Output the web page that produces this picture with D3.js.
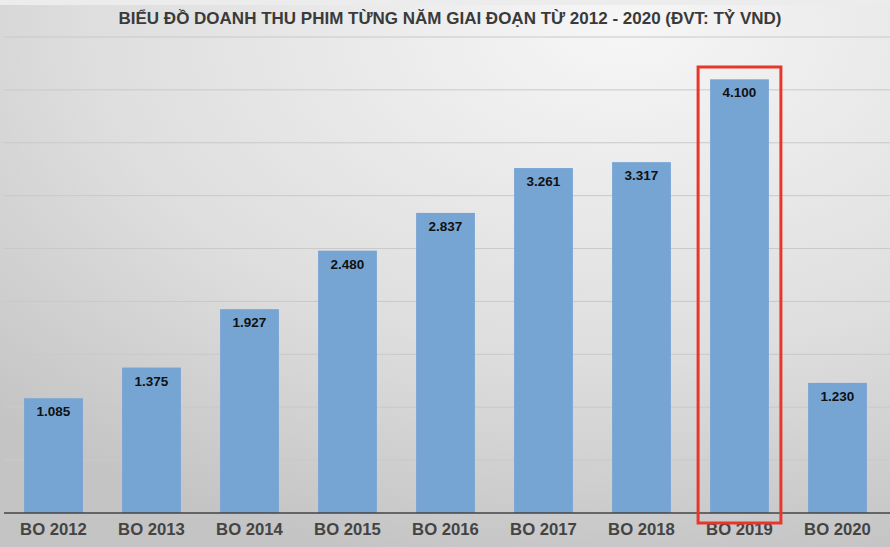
<!DOCTYPE html>
<html><head><meta charset="utf-8">
<script src="https://cdn.jsdelivr.net/npm/d3@7/dist/d3.min.js"></script>
<style>body{margin:0;}svg{display:block;}</style></head>
<body><svg id="c" width="890" height="547"></svg>
<script>
const categories = ["BO 2012","BO 2013","BO 2014","BO 2015","BO 2016","BO 2017","BO 2018","BO 2019","BO 2020"];
const values = [1.085,1.375,1.927,2.480,2.837,3.261,3.317,4.100,1.230];
const labels = ["1.085","1.375","1.927","2.480","2.837","3.261","3.317","4.100","1.230"];
const gridTicks = [0.5,1,1.5,2,2.5,3,3.5,4,4.5];
const highlight = "BO 2019";

const svg = d3.select("#c");
const defs = svg.append("defs");
const g = defs.append("radialGradient").attr("id","bg").attr("cx","0.7").attr("cy","0.05").attr("r","1.0");
g.append("stop").attr("offset","0").attr("stop-color","#f6f6f6");
g.append("stop").attr("offset","0.6").attr("stop-color","#dedede");
g.append("stop").attr("offset","1").attr("stop-color","#c4c4c4");
svg.append("rect").attr("width",890).attr("height",547).attr("fill","url(#bg)");
svg.append("rect").attr("width",890).attr("height",5).attr("fill","#ececec");

const x = d3.scaleBand().domain(categories).range([4.5,886.5]).paddingInner(0.4).paddingOuter(0.2);
const y = d3.scaleLinear().domain([0,4.5]).range([513,37]);

svg.append("g").selectAll("line").data(gridTicks).join("line")
  .attr("x1",4).attr("x2",890).attr("y1",d=>y(d)).attr("y2",d=>y(d))
  .attr("stroke","#c9c9c9").attr("stroke-width",1);

svg.append("g").selectAll("rect").data(values).join("rect")
  .attr("x",(d,i)=>x(categories[i])).attr("width",x.bandwidth())
  .attr("y",d=>y(d)).attr("height",d=>y(0)-y(d)).attr("fill","#76a5d4");

svg.append("g").selectAll("text").data(values).join("text")
  .attr("x",(d,i)=>x(categories[i])+x.bandwidth()/2).attr("y",d=>y(d)+18)
  .attr("text-anchor","middle").attr("font-family","Liberation Sans, Arial").attr("font-weight","bold")
  .attr("font-size",13.5).attr("fill","#111").text((d,i)=>labels[i]);

svg.append("line").attr("x1",4).attr("x2",890).attr("y1",y(0)).attr("y2",y(0)).attr("stroke","#444").attr("stroke-width",1.5);

const xa = svg.append("g").attr("transform",`translate(0,${y(0)})`).call(d3.axisBottom(x).tickSize(0).tickPadding(7));
xa.select(".domain").remove();
xa.selectAll("text").attr("font-family","Liberation Sans, Arial").attr("font-weight","bold").attr("font-size",16.7).attr("fill","#444").attr("dy","0.9em");

svg.append("text").attr("x",450).attr("y",24).attr("text-anchor","middle")
  .attr("font-family","Liberation Sans, Arial").attr("font-weight","bold").attr("font-size",17).attr("fill","#3a3a3a")
  .text("BIỂU ĐỒ DOANH THU PHIM TỪNG NĂM GIAI ĐOẠN TỪ 2012 - 2020 (ĐVT: TỶ VND)");

const hx = x(highlight);
svg.append("rect").attr("x",hx-12).attr("y",67).attr("width",x.bandwidth()+24).attr("height",456)
  .attr("fill","none").attr("stroke","#e8372a").attr("stroke-width",3);
</script></body></html>
